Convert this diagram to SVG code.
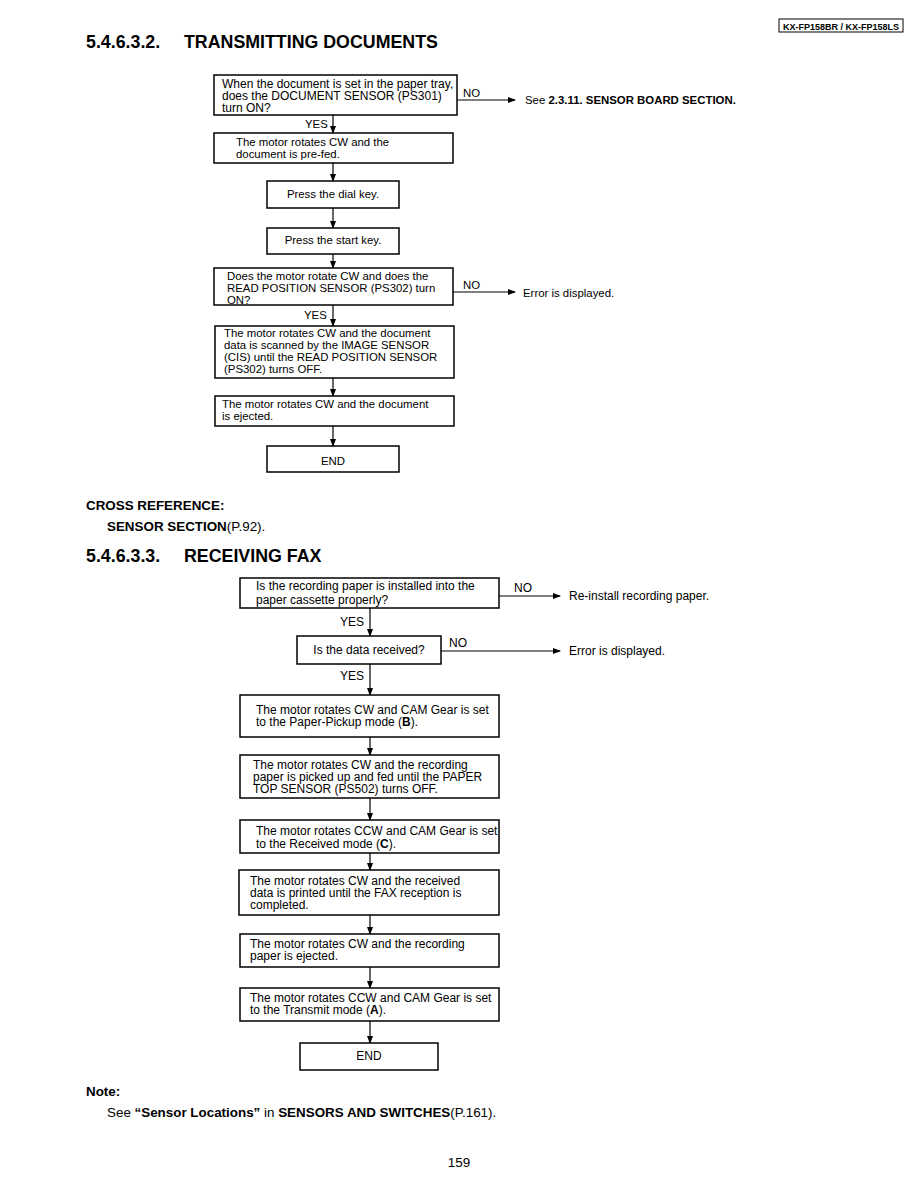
<svg xmlns="http://www.w3.org/2000/svg" width="918" height="1188" viewBox="0 0 918 1188">
<defs>
<marker id="ah" markerWidth="8" markerHeight="6" refX="7" refY="3" orient="auto" markerUnits="userSpaceOnUse">
<path d="M0,0 L8,3 L0,6 Z" fill="#000"/>
</marker>
<style>
text{font-family:"Liberation Sans",Arial,sans-serif;fill:#000}
.t{font-size:12px}
.u{font-size:11.4px}
.b{font-weight:bold}
.h{font-size:17.8px;font-weight:bold}
.s{font-size:13.4px}
rect.n{fill:#fff;stroke:#000;stroke-width:1.5}
.c line{stroke:#000;stroke-width:1.2;marker-end:url(#ah)}
</style>
</defs>
<rect width="918" height="1188" fill="#fff"/>
<g id="header">
<rect x="779" y="19" width="124" height="13" fill="#fff" stroke="#000" stroke-width="1"/>
<text x="841" y="29.5" text-anchor="middle" class="b" font-size="9px">KX-FP158BR / KX-FP158LS</text>
</g>
<text x="86" y="48" class="h">5.4.6.3.2.</text>
<text x="184" y="48" class="h">TRANSMITTING DOCUMENTS</text>

<g class="c" id="connectors">
<line x1="457" y1="100" x2="515" y2="100"/>
<line x1="333" y1="115" x2="333" y2="133"/>
<line x1="333" y1="163" x2="333" y2="181"/>
<line x1="333" y1="208" x2="333" y2="228"/>
<line x1="333" y1="254" x2="333" y2="268"/>
<line x1="453" y1="292" x2="515" y2="292"/>
<line x1="333" y1="305" x2="333" y2="326"/>
<line x1="333" y1="378" x2="333" y2="396"/>
<line x1="333" y1="426" x2="333" y2="446"/>
<line x1="499" y1="596" x2="560" y2="596"/>
<line x1="370" y1="608" x2="370" y2="636"/>
<line x1="441" y1="651" x2="560" y2="651"/>
<line x1="370" y1="664" x2="370" y2="695"/>
<line x1="370" y1="737" x2="370" y2="755"/>
<line x1="370" y1="798" x2="370" y2="820"/>
<line x1="370" y1="853" x2="370" y2="870"/>
<line x1="370" y1="915" x2="370" y2="934"/>
<line x1="370" y1="967" x2="370" y2="988"/>
<line x1="370" y1="1021" x2="370" y2="1043"/>
</g>
<g id="labels">
<text x="463" y="97" class="u">NO</text>
<text x="525" y="104" class="u">See <tspan class="b">2.3.11. SENSOR BOARD SECTION.</tspan></text>
<text x="305" y="128" class="u">YES</text>
<text x="463" y="289" class="u">NO</text>
<text x="523" y="297" class="u">Error is displayed.</text>
<text x="304" y="319" class="u">YES</text>
<text x="514" y="592" class="t">NO</text>
<text x="569" y="600" class="t">Re-install recording paper.</text>
<text x="340" y="626" class="t">YES</text>
<text x="449" y="647" class="t">NO</text>
<text x="569" y="655" class="t">Error is displayed.</text>
<text x="340" y="680" class="t">YES</text>
</g>

<g id="t1"><rect class="n" x="214" y="75" width="243" height="40"/>
<text class="t" x="222" y="88" font-size="11.7px">When the document is set in the paper tray,</text>
<text class="t" x="222" y="100" font-size="11.7px">does the DOCUMENT SENSOR (PS301)</text>
<text class="t" x="222" y="112" font-size="11.7px">turn ON?</text></g>
<g id="t2"><rect class="n" x="214" y="133" width="239" height="30"/>
<text class="u" x="236" y="146">The motor rotates CW and the</text>
<text class="u" x="236" y="158">document is pre-fed.</text></g>
<g id="t3"><rect class="n" x="267" y="181" width="132" height="27"/>
<text class="u" x="333" y="198" text-anchor="middle">Press the dial key.</text></g>
<g id="t4"><rect class="n" x="267" y="228" width="132" height="26"/>
<text class="u" x="333" y="244" text-anchor="middle">Press the start key.</text></g>
<g id="t5"><rect class="n" x="214" y="268" width="239" height="37"/>
<text class="u" x="227" y="280">Does the motor rotate CW and does the</text>
<text class="u" x="227" y="292">READ POSITION SENSOR (PS302) turn</text>
<text class="u" x="227" y="304">ON?</text></g>
<g id="t6"><rect class="n" x="215" y="326" width="239" height="52"/>
<text class="u" x="224" y="337">The motor rotates CW and  the document</text>
<text class="u" x="224" y="349">data is scanned by the IMAGE SENSOR</text>
<text class="u" x="224" y="361">(CIS) until the READ POSITION SENSOR</text>
<text class="u" x="224" y="373">(PS302) turns OFF.</text></g>
<g id="t7"><rect class="n" x="215" y="396" width="239" height="30"/>
<text class="u" x="222" y="408">The motor rotates CW and the document</text>
<text class="u" x="222" y="420">is ejected.</text></g>
<g id="t8"><rect class="n" x="267" y="446" width="132" height="26"/>
<text class="u" x="333" y="465" text-anchor="middle">END</text></g>

<text x="86" y="510" class="s b">CROSS REFERENCE:</text>
<text x="107" y="531" class="s"><tspan class="b">SENSOR SECTION</tspan>(P.92).</text>
<text x="86" y="562" class="h">5.4.6.3.3.</text>
<text x="184" y="562" class="h">RECEIVING FAX</text>

<g id="r1"><rect class="n" x="240" y="578" width="259" height="30"/>
<text class="t" x="256" y="590">Is the recording paper is installed into the</text>
<text class="t" x="256" y="604">paper cassette properly?</text></g>
<g id="r2"><rect class="n" x="297" y="636" width="144" height="28"/>
<text class="t" x="369" y="654" text-anchor="middle">Is the data received?</text></g>
<g id="r3"><rect class="n" x="240" y="695" width="259" height="42"/>
<text class="t" x="256" y="714">The motor rotates CW and CAM Gear is set</text>
<text class="t" x="256" y="726">to the Paper-Pickup mode (<tspan class="b">B</tspan>).</text></g>
<g id="r4"><rect class="n" x="240" y="755" width="259" height="43"/>
<text class="t" x="253" y="769">The motor rotates CW and the recording</text>
<text class="t" x="253" y="781">paper is picked up and fed until the PAPER</text>
<text class="t" x="253" y="793">TOP SENSOR (PS502) turns OFF.</text></g>
<g id="r5"><rect class="n" x="240" y="820" width="259" height="33"/>
<text class="t" x="256" y="835">The motor rotates CCW and CAM Gear is set</text>
<text class="t" x="256" y="848">to the Received mode (<tspan class="b">C</tspan>).</text></g>
<g id="r6"><rect class="n" x="239" y="870" width="260" height="45"/>
<text class="t" x="250" y="885">The motor rotates CW and the received</text>
<text class="t" x="250" y="897">data is printed until the FAX reception is</text>
<text class="t" x="250" y="909">completed.</text></g>
<g id="r7"><rect class="n" x="240" y="934" width="259" height="33"/>
<text class="t" x="250" y="948">The motor rotates CW and the recording</text>
<text class="t" x="250" y="960">paper is ejected.</text></g>
<g id="r8"><rect class="n" x="240" y="988" width="259" height="33"/>
<text class="t" x="250" y="1002">The motor rotates CCW and CAM Gear is set</text>
<text class="t" x="250" y="1014">to the Transmit mode (<tspan class="b">A</tspan>).</text></g>
<g id="r9"><rect class="n" x="300" y="1043" width="138" height="27"/>
<text class="t" x="369" y="1060" text-anchor="middle">END</text></g>

<text x="86" y="1096" class="s b">Note:</text>
<text x="107" y="1117" class="s">See <tspan class="b">“Sensor Locations”</tspan> in <tspan class="b">SENSORS AND SWITCHES</tspan>(P.161).</text>
<text x="459" y="1167" class="s" text-anchor="middle">159</text>
</svg>
